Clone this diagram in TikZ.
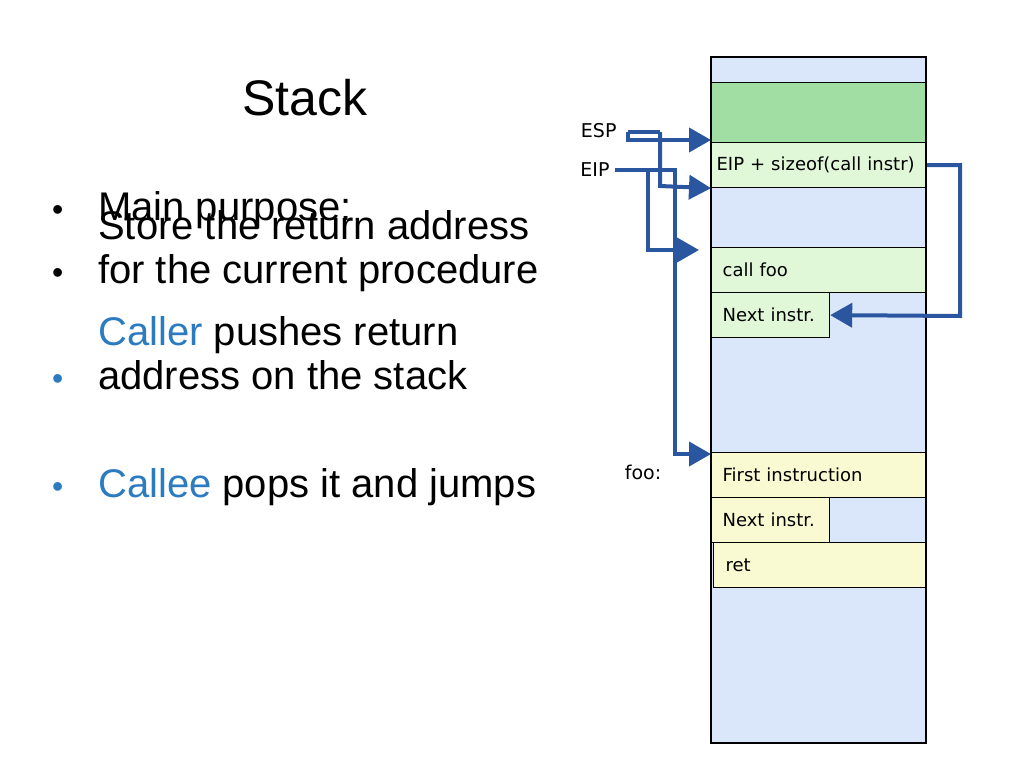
\documentclass[tikz,border=0pt]{standalone}
\usepackage{fontspec}
\setmainfont{Liberation Sans}
\newfontfamily\dvs{DejaVu Sans}
\usetikzlibrary{positioning,arrows.meta}
\definecolor{ptr}{HTML}{2A56A0}
\definecolor{stblue}{HTML}{DAE6FA}
\definecolor{stgreen}{HTML}{A0DEA4}
\definecolor{stlight}{HTML}{E0F8D8}
\definecolor{styell}{HTML}{FAFAD2}
\definecolor{callc}{HTML}{2C7BC0}
\tikzset{cell/.style={draw,line width=1.2pt,anchor=north west,inner xsep=11pt,inner ysep=0pt,minimum height=45pt,font=\dvs\fontsize{18}{20}\selectfont,align=left},
  ptrline/.style={ptr,line width=4pt,-{Triangle[length=22pt,width=24pt]}},
  bul/.style={anchor=base west,font=\fontsize{40}{44}\selectfont,align=left,inner sep=0pt},
  dot/.style={anchor=base west,font=\fontsize{32}{44}\selectfont,inner sep=0pt}}
\begin{document}
\begin{tikzpicture}[x=1pt,y=-1pt]
    \useasboundingbox (0,0) rectangle (1024,768);
    \node[font=\fontsize{50}{60}\selectfont] (title) at (305,98) {Stack};
    \node[dot] (d1) at (52,220) {\textbullet};
    \node[bul] (b1) at (98,220) {Main purpose:};
    \node[dot] (d2) at (52,283) {\textbullet};
    \node[bul] (b2) at (98,283) {Store the return address\\for the current procedure};
    \node[dot,callc] (d3) at (52,389) {\textbullet};
    \node[bul] (b3) at (98,389) {{\color{callc}Caller} pushes return\\address on the stack};
    \node[dot,callc] (d4) at (52,497) {\textbullet};
    \node[bul] (b4) at (98,497) {{\color{callc}Callee} pops it and jumps};

    % stack
    \fill[stblue] (711,57) rectangle (926,743);
    \node[cell,fill=stblue,minimum width=215pt,minimum height=25pt] (top) at (711,57) {};
    \node[cell,fill=stgreen,minimum width=215pt,minimum height=60pt] (espc) at (711,82) {};
    \node[cell,fill=stlight,text width=205pt,inner xsep=5pt] (retc) at (711,142) {EIP + sizeof(call instr)};
    \node[cell,fill=stlight,text width=193pt] (call) at (711,247) {call foo};
    \node[cell,fill=stlight,text width=96pt] (next) at (711,292) {Next instr.};
    \node[cell,fill=styell,text width=193pt] (first) at (711,452) {First instruction};
    \node[cell,fill=styell,text width=96pt] (next2) at (711,497) {Next instr.};
    \node[cell,fill=styell,text width=189pt,inner xsep=12pt] (ret) at (713,542) {ret};
    \draw[line width=1.2pt] (711,57) rectangle (926,743);

    \node[font=\dvs\fontsize{19}{20}\selectfont,anchor=east] (esp) at (620,131) {ESP};
    \node[font=\dvs\fontsize{19}{20}\selectfont,anchor=east] (eip) at (613,170) {EIP};
    \node[font=\dvs\fontsize{19}{20}\selectfont] (foo) at (643,472) {foo:};

    \coordinate (sp) at (628,132);
    \coordinate (ip) at (615,170);
    \draw[ptrline] (sp) -- (628,140) -- (espc.west |- 0,140);
    \draw[ptr,line width=4pt] (sp) -- (660,132);
    \draw[ptrline] (660,132) -- (660,186) -- (retc.south west);
    \draw[ptrline] (ip) -- (648,170) -- (648,250) -- (699,250);
    \draw[ptrline] (648,170) -- (675,170) -- (675,454) -- (first.west |- 0,454);
    \draw[ptrline] (retc.east) -- (960,165) -- (960,316) -- (next.east);
\end{tikzpicture}
\end{document}
